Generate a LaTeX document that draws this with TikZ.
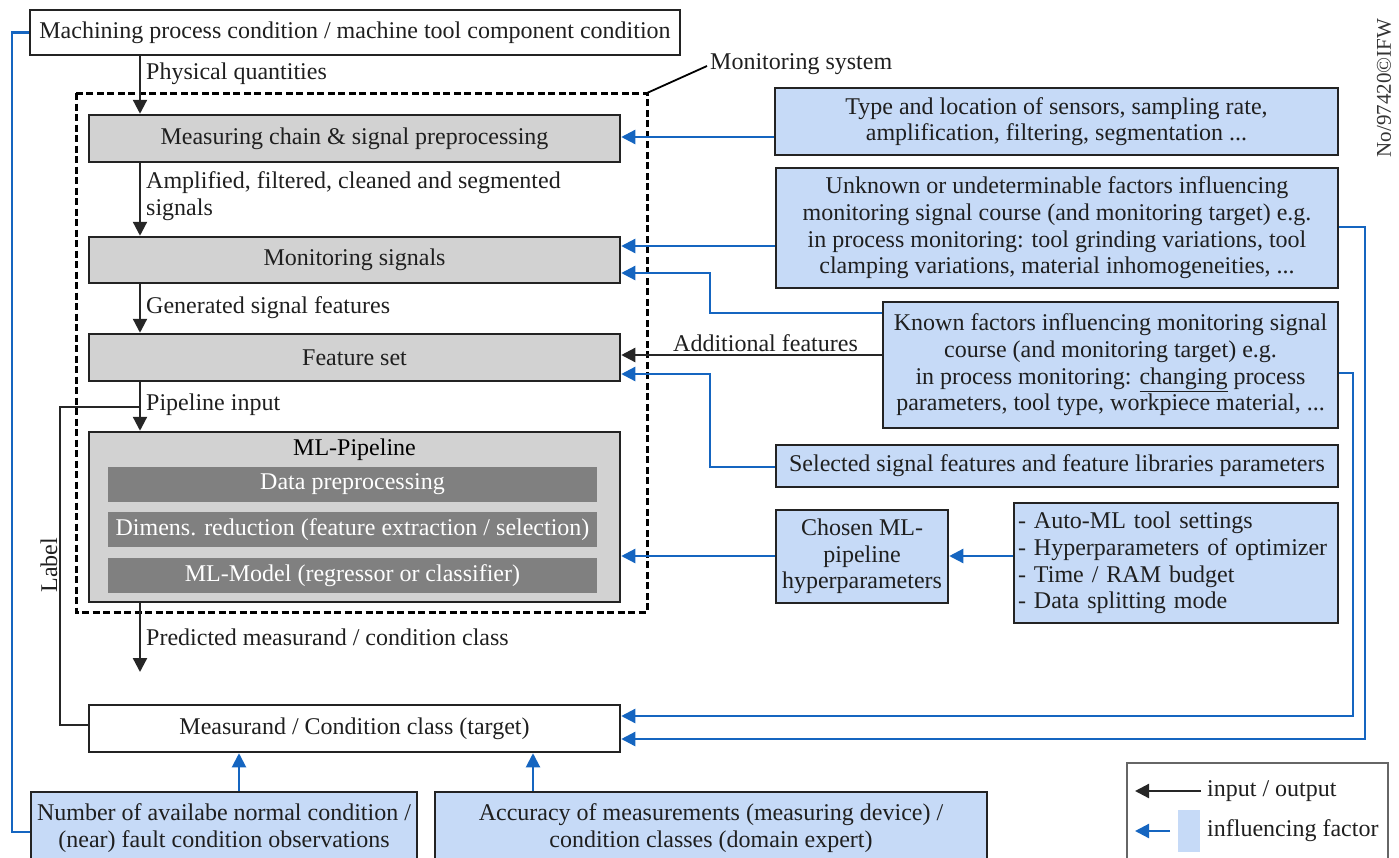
\documentclass[tikz,border=0pt]{standalone}
\usepackage{fontspec}
\setmainfont{Liberation Serif}
\usetikzlibrary{arrows.meta}
\definecolor{lblue}{RGB}{198,218,247}
\definecolor{bline}{RGB}{21,101,192}
\definecolor{grayc}{RGB}{210,210,210}
\definecolor{dgray}{RGB}{128,128,128}
\definecolor{bordc}{RGB}{35,35,35}
\begin{document}
\begin{tikzpicture}[x=1pt,y=-1pt,
  font=\fontsize{24}{26.7}\selectfont,
  box/.style={draw=bordc, line width=2.5pt, align=center, inner sep=2pt, text=black!88},
  gbox/.style={box, fill=grayc},
  bbox/.style={box, fill=lblue},
  dbox/.style={fill=dgray, text=white, inner sep=0pt, align=center},
  arr/.style={-{Triangle[length=14pt,width=14pt]}, line width=2.3pt, draw=black!85},
  barr/.style={arr, draw=bline},
  bl/.style={line width=2.3pt, draw=bline},
  lbl/.style={anchor=west, inner sep=0pt, text=black!88}]
\useasboundingbox (0,0) rectangle (1399,857);

% main chain
\node[box, minimum width=650pt, minimum height=45pt] (top) at (355,32.5) {Machining process condition / machine tool component condition};
\draw[line width=3pt, dash pattern=on 7pt off 3.5pt] (76,93) rectangle (647,612);
\coordinate (dc) at (647,93);
\node[lbl] (mon) at (710,64) {Monitoring system};
\draw[line width=1.8pt] (dc) -- ([xshift=-3pt,yshift=-2pt]mon.west);

\node[gbox, minimum width=531pt, minimum height=47pt] (meas) at (354.5,138.5) {Measuring chain \& signal preprocessing};
\node[gbox, minimum width=531pt, minimum height=46pt] (msig) at (354.5,260) {Monitoring signals};
\node[gbox, minimum width=531pt, minimum height=47pt] (fset) at (354.5,357.5) {Feature set};
\node[gbox, minimum width=531pt, minimum height=170pt] (mlp) at (354.5,517) {};
\node (mlt) at (354.5,450) {ML-Pipeline};
\node[dbox, minimum width=489pt, minimum height=35pt] (dp) at (352.5,484.5) {Data preprocessing};
\node[dbox, minimum width=489pt, minimum height=35pt] (dr) at (352.5,529.5) {Dimens. reduction (feature extraction / selection)};
\node[dbox, minimum width=489pt, minimum height=35pt] (mm) at (352.5,575.5) {ML-Model (regressor or classifier)};
\node[box, minimum width=531pt, minimum height=47pt] (mt) at (354.5,728.5) {Measurand / Condition class (target)};

% labels on main chain
\node[lbl] (pq) at (146,74) {Physical quantities};
\node[lbl, align=left] (afc) at (146,196) {Amplified, filtered, cleaned and segmented\\signals};
\node[lbl] (gsf) at (146,308) {Generated signal features};
\node[lbl] (pin) at (146,405) {Pipeline input};
\node[lbl] (pred) at (146,637) {Predicted measurand / condition class};
\node[rotate=90, inner sep=0pt, text=black!88] (lab) at (49,565) {Label};

% right boxes
\node[bbox, minimum width=563pt, minimum height=67pt] (type) at (1056.5,121.5) {Type and location of sensors, sampling rate,\\amplification, filtering, segmentation ...};
\node[bbox, minimum width=562pt, minimum height=120pt] (unk) at (1057,228) {Unknown or undeterminable factors influencing\\monitoring signal course (and monitoring target) e.g.\\in process monitoring: tool grinding variations, tool\\clamping variations, material inhomogeneities, ...};
\node[bbox, minimum width=455pt, minimum height=126pt] (known) at (1110.5,365) {Known factors influencing monitoring signal\\course (and monitoring target) e.g.\\in process monitoring: \underline{changing} process\\parameters, tool type, workpiece material, ...};
\node[bbox, minimum width=562pt, minimum height=42pt] (sel) at (1057,466) {Selected signal features and feature libraries parameters};
\node[bbox, minimum width=172pt, minimum height=93pt] (chosen) at (862,556.5) {Chosen ML-\\pipeline\\hyperparameters};
\node[bbox, minimum width=324pt, minimum height=120pt, align=left, text width=316pt, inner sep=2pt] (auto) at (1176,563) {- Auto-ML tool settings\\- Hyperparameters of optimizer\\- Time / RAM budget\\- Data splitting mode};
\node[lbl] (addf) at (673,343) {Additional features};

% bottom boxes
\node[bbox, minimum width=386pt, minimum height=72pt] (bot1) at (224,828) {Number of availabe normal condition /\\(near) fault condition observations};
\node[bbox, minimum width=552pt, minimum height=72pt] (bot2) at (711,828) {Accuracy of measurements (measuring device) /\\condition classes (domain expert)};

% stamp
\node[rotate=90, inner sep=0pt, text=black!80, font=\fontsize{21}{24}\selectfont] (stamp) at (1384,88) {No/97420©IFW};

% black connectors
\draw[arr] (top.south -| 140,0) -- (meas.north -| 140,0);
\draw[arr] (meas.south -| 140,0) -- (msig.north -| 140,0);
\draw[arr] (msig.south -| 140,0) -- (fset.north -| 140,0);
\draw[arr] (fset.south -| 140,0) -- (mlp.north -| 140,0);
\coordinate (predend) at (140,672);
\draw[arr] (mlp.south -| 140,0) -- (predend);
\draw[line width=2.3pt, draw=black!85] (mt.west |- 0,725) -- (60,725) -- (60,407) -- (140,407);
\draw[arr] (known.west |- 0,355) -- (fset.east |- 0,355);

% blue connectors
\draw[barr] (type.west |- 0,137) -- (meas.east |- 0,137);
\draw[barr] (unk.west |- 0,246) -- (msig.east |- 0,246);
\draw[barr] (known.west |- 0,313) -- (710,313) -- (710,273) -- (msig.east |- 0,273);
\draw[barr] (sel.west |- 0,467) -- (710,467) -- (710,374) -- (fset.east |- 0,374);
\draw[barr] (chosen.west |- 0,556) -- (mlp.east |- 0,556);
\draw[barr] (auto.west |- 0,556) -- (chosen.east |- 0,556);
\draw[barr] (unk.east |- 0,227) -- (1365,227) -- (1365,739) -- (mt.east |- 0,739);
\draw[barr] (known.east |- 0,373) -- (1353,373) -- (1353,716) -- (mt.east |- 0,716);
\draw[barr, line width=2pt] (bot1.north -| 239,0) -- (mt.south -| 239,0);
\draw[barr, line width=2pt] (bot2.north -| 533,0) -- (mt.south -| 533,0);
\draw[bl] (top.west) -- (12,32.5) -- (12,832) -- (bot1.west |- 0,832);

% legend
\draw[line width=1.2pt, draw=black!60] (1127,870) -- (1127,763) -- (1388,763) -- (1388,870);
\node[lbl] (l1) at (1207,791) {input / output};
\node[lbl] (l2) at (1207,831) {influencing factor};
\fill[lblue] (1178,810) rectangle (1200,852);
\draw[arr] ([xshift=-6pt]l1.west) -- (1135,791);
\draw[barr] (1170,831) -- (1135,831);
\end{tikzpicture}
\end{document}
